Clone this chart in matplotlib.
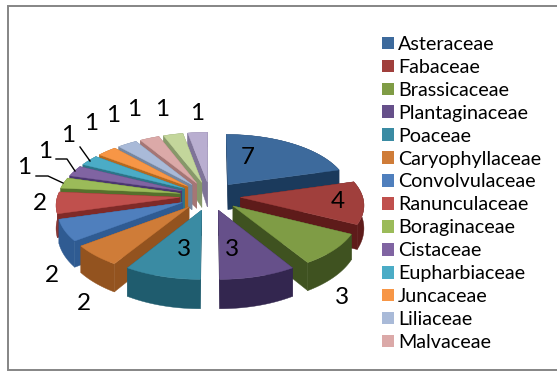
import numpy as np
import matplotlib
matplotlib.use('Agg')
import matplotlib.pyplot as plt
from matplotlib.patches import Patch, Polygon

families = ['Asteraceae', 'Fabaceae', 'Brassicaceae', 'Plantaginaceae', 'Poaceae',
            'Caryophyllaceae', 'Convolvulaceae', 'Ranunculaceae', 'Boraginaceae',
            'Cistaceae', 'Eupharbiaceae', 'Juncaceae', 'Liliaceae', 'Malvaceae']
counts = [7, 4, 3, 3, 3, 2, 2, 2, 1, 1, 1, 1, 1, 1, 1, 1]
top_colors = ['#3d6a9c', '#a03f3c', '#7f9c45', '#66508a', '#3a8ba3', '#cf7c38',
              '#4f7fbd', '#c0504d', '#9bbb59', '#8064a2', '#4bacc6', '#f79646',
              '#a9bad8', '#dba9a8', '#c3d69b', '#b9aed0']
side_colors = ['#1b3a5c', '#5e1b1a', '#3f5220', '#33264f', '#1f5c6e', '#93531f',
               '#2f5b92', '#7f2a28', '#56702c', '#4b3770', '#2c7488', '#b5691f',
               '#75869f', '#a57675', '#87986a', '#7f7498']

# where each value label sits, in order of counts
label_xy = [(248, 158), (338, 202), (342, 297), (232, 250), (184, 250), (84, 303),
            (52, 276), (40, 204), (24, 167), (45, 151), (68, 136), (91, 123),
            (113, 116), (134, 110), (162, 110), (197, 113)]
# leader lines for the small slices on the left
leaders = [[(36, 176), (48, 176), (63, 183)],
           [(56, 159), (67, 159), (75, 171)],
           [(80, 147), (90, 161)]]

cx, cy = 210, 196
radius = 122
k = 58
persp = 0.11
explode = 0.25


def project(x, y, drop=0.0):
    s = 1 / (1 + persp * y)
    return cx + radius * x * s, cy - k * y * s + drop


def thick(y, r):
    # the extrusion looks taller towards the viewer
    return 25 + (22 - 6 * y - 25) * r


fig = plt.figure(figsize=(5.57, 3.71), dpi=100)
ax = fig.add_axes([0, 0, 1, 1])
ax.set_xlim(0, 557)
ax.set_ylim(371, 0)
ax.axis('off')
plt.rcParams['font.family'] = ['Lato', 'DejaVu Sans']

# frame runs off the right side
ax.plot([557, 7.5, 7.5, 557], [5.5, 5.5, 369.5, 369.5], color='#858585', lw=1.4,
        solid_joinstyle='miter')

edges = np.cumsum([0] + counts) / sum(counts) * 2 * np.pi
mids = (edges[:-1] + edges[1:]) / 2
order = np.argsort(-np.cos(mids))

for z, i in enumerate(order):
    a0, a1, mid = edges[i], edges[i + 1], mids[i]
    ox, oy = explode * np.sin(mid), explode * np.cos(mid)
    t = np.linspace(a0, a1, 40)
    rx, ry = ox + np.sin(t), oy + np.cos(t)
    top_rim = np.array([project(a, b) for a, b in zip(rx, ry)])
    low_rim = np.array([project(a, b, thick(b, 1)) for a, b in zip(rx, ry)])
    apex = np.array(project(ox, oy))
    apex_low = np.array(project(ox, oy, thick(oy, 0)))
    base = 10 + z * 0.1
    for rim_t, rim_l in ((top_rim[0], low_rim[0]), (top_rim[-1], low_rim[-1])):
        ax.add_patch(Polygon([apex, rim_t, rim_l, apex_low], fc=side_colors[i],
                             ec=side_colors[i], lw=0.3, zorder=base))
    ax.add_patch(Polygon(np.vstack([top_rim, low_rim[::-1]]), fc=side_colors[i],
                         ec=side_colors[i], lw=0.3, zorder=base + 0.01))
    ax.add_patch(Polygon(np.vstack([apex, top_rim]), fc=top_colors[i],
                         ec=top_colors[i], lw=0.3, zorder=base + 0.02))

for (x, y), n in zip(label_xy, counts):
    ax.text(x, y, str(n), fontsize=17.5, color='black', ha='center', va='center', zorder=30)
for line in leaders:
    ax.plot(*zip(*line), color='black', lw=1, zorder=30)

handles = [Patch(fc=c, ec='none') for c in top_colors[:len(families)]]
ax.legend(handles, families, loc='upper left', bbox_to_anchor=(382 / 557, 1 - 36 / 371),
          frameon=False, fontsize=14.2, handlelength=0.61, handleheight=0.61,
          handletextpad=0.2, labelspacing=0.3, borderaxespad=0, borderpad=0)

fig.savefig('out.png', dpi=100)
